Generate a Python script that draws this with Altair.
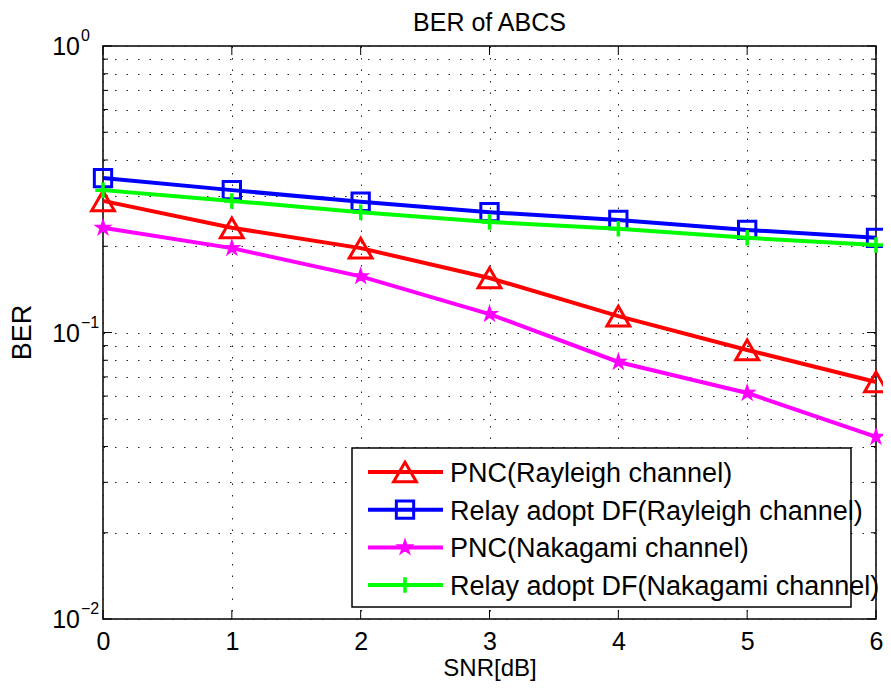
import altair as alt
import pandas as pd

# ---------------- data ----------------
snr = [0, 1, 2, 3, 4, 5, 6]
ber_pnc_rayleigh = [0.288, 0.232, 0.197, 0.155, 0.114, 0.0869, 0.0672]
ber_df_rayleigh = [0.346, 0.314, 0.286, 0.263, 0.247, 0.228, 0.214]
ber_pnc_nakagami = [0.232, 0.197, 0.157, 0.116, 0.0789, 0.0615, 0.0432]
ber_df_nakagami = [0.314, 0.288, 0.263, 0.243, 0.230, 0.214, 0.202]

series_names = [
    "PNC(Rayleigh channel)",
    "Relay adopt DF(Rayleigh channel)",
    "PNC(Nakagami channel)",
    "Relay adopt DF(Nakagami channel)",
]
series_values = [ber_pnc_rayleigh, ber_df_rayleigh, ber_pnc_nakagami, ber_df_nakagami]
series_colors = ["#ff0000", "#0000ff", "#ff00ff", "#00ff00"]

y_decades = [1.0, 0.1, 0.01]
y_decade_exps = ["0", "\u22121", "\u22122"]
y_minor = [0.02, 0.03, 0.04, 0.05, 0.06, 0.07, 0.08, 0.09,
           0.2, 0.3, 0.4, 0.5, 0.6, 0.7, 0.8, 0.9]
y_grid_values = sorted(y_decades + y_minor)
x_ticks = [0, 1, 2, 3, 4, 5, 6]

# ---------------- styles ----------------
W, H = 773, 573
FONT = "Liberation Sans"
STAR = ("M0,-1L0.2245,-0.309L0.951,-0.309L0.363,0.118L0.588,0.809L0,0.382"
        "L-0.588,0.809L-0.363,0.118L-0.951,-0.309L-0.2245,-0.309Z")
PLUS = "M-1,0L1,0M0,-1L0,1"
marker_style = [
    dict(shape="triangle-up", size=520, filled=False, strokeWidth=3),
    dict(shape="square", size=300, filled=False, strokeWidth=3),
    dict(shape=STAR, size=190, filled=True, strokeWidth=2),
    dict(shape=PLUS, size=240, filled=False, strokeWidth=3.5),
]

xs = alt.Scale(domain=[0, 6], nice=False, zero=False)
ys = alt.Scale(type="log", domain=[0.01, 1], nice=False)

x_axis = alt.Axis(values=x_ticks, format="d", domain=False, ticks=False, tickSize=0,
                  labelFont=FONT, labelFontSize=25, labelPadding=10, labelColor="black",
                  labelFlush=False,
                  grid=True, gridDash=[1.5, 10], gridColor="#222222", gridWidth=1,
                  title="SNR[dB]", titleFont=FONT, titleFontSize=24, titleFontWeight="normal",
                  titleColor="black", titlePadding=2)
y_axis = alt.Axis(values=y_grid_values, domain=False, ticks=False, labels=False,
                  grid=True, gridDash=[1.5, 10], gridColor="#222222", gridWidth=1,
                  title=None)

X = alt.X("snr:Q", scale=xs, axis=x_axis)
Y = alt.Y("ber:Q", scale=ys, axis=y_axis)

layers = []

# inward ticks (left/right on y, bottom/top on x)
ytick_df = pd.DataFrame({"ber": y_grid_values,
                         "major": [v in y_decades for v in y_grid_values]})
for major, ln in [(True, 9), (False, 5)]:
    d = ytick_df[ytick_df["major"] == major]
    layers.append(alt.Chart(d).mark_rule(color="black", strokeWidth=1).encode(
        y=Y, x=alt.value(0), x2=alt.value(ln)))
    layers.append(alt.Chart(d).mark_rule(color="black", strokeWidth=1).encode(
        y=Y, x=alt.value(W - ln), x2=alt.value(W)))
xtick_df = pd.DataFrame({"snr": x_ticks})
layers.append(alt.Chart(xtick_df).mark_rule(color="black", strokeWidth=1).encode(
    x=X, y=alt.value(H), y2=alt.value(H - 9)))
layers.append(alt.Chart(xtick_df).mark_rule(color="black", strokeWidth=1).encode(
    x=X, y=alt.value(0), y2=alt.value(9)))

# data lines + markers
for name, vals, col, ms in zip(series_names, series_values, series_colors, marker_style):
    df = pd.DataFrame({"snr": snr, "ber": vals, "series": name})
    layers.append(alt.Chart(df).mark_line(color=col, strokeWidth=4).encode(x=X, y=Y))
    layers.append(alt.Chart(df).mark_point(
        shape=ms["shape"], size=ms["size"], filled=ms["filled"], opacity=1,
        color=col, stroke=col, strokeWidth=ms["strokeWidth"]).encode(x=X, y=Y))

# y-axis decade labels 10^n
dec_df = pd.DataFrame({"ber": y_decades, "exp": y_decade_exps})
layers.append(alt.Chart(dec_df).mark_text(
    text="10", font=FONT, fontSize=25, align="right", baseline="middle", color="black", dy=1
).encode(y=Y, x=alt.value(-23)))
layers.append(alt.Chart(dec_df).mark_text(
    font=FONT, fontSize=16, align="left", baseline="middle", color="black", dy=-10
).encode(y=Y, x=alt.value(-22), text="exp:N"))

# y-axis title and chart title
layers.append(alt.Chart(pd.DataFrame({"t": ["BER"]})).mark_text(
    font=FONT, fontSize=27, angle=270, align="center", baseline="middle", color="black"
).encode(text="t:N", x=alt.value(-80), y=alt.value(H / 2)))
layers.append(alt.Chart(pd.DataFrame({"t": ["BER of ABCS"]})).mark_text(
    font=FONT, fontSize=25, align="center", baseline="alphabetic", color="black"
).encode(text="t:N", x=alt.value(W / 2), y=alt.value(-15)))

# legend (manual, MATLAB style)
LX0, LX1, LY0, LY1 = 249, 748, 402, 561
layers.append(alt.Chart(pd.DataFrame({"a": [0]})).mark_rect(
    fill="white", stroke="black", strokeWidth=1.5
).encode(x=alt.value(LX0), x2=alt.value(LX1), y=alt.value(LY0), y2=alt.value(LY1)))
row0, rowstep = 426, 37.7
for i, (name, col, ms) in enumerate(zip(series_names, series_colors, marker_style)):
    ly = row0 + rowstep * i
    ldf = pd.DataFrame({"label": [name]})
    layers.append(alt.Chart(ldf).mark_rule(color=col, strokeWidth=4).encode(
        x=alt.value(265), x2=alt.value(340), y=alt.value(ly)))
    layers.append(alt.Chart(ldf).mark_point(
        shape=ms["shape"], size=ms["size"], filled=ms["filled"], opacity=1,
        color=col, stroke=col, strokeWidth=ms["strokeWidth"]
    ).encode(x=alt.value(302), y=alt.value(ly)))
    layers.append(alt.Chart(ldf).mark_text(
        font=FONT, fontSize=27, align="left", baseline="middle", color="black", dy=2
    ).encode(text="label:N", x=alt.value(347), y=alt.value(ly)))

chart = alt.layer(*layers).properties(
    width=W, height=H,
    padding={"left": 95, "top": 38, "right": 7, "bottom": 63},
    autosize=alt.AutoSizeParams(type="none"),
    background="white",
).configure_view(stroke="black", strokeWidth=1.5)

chart.save("out.html", embed_options={"renderer": "svg", "actions": False})
